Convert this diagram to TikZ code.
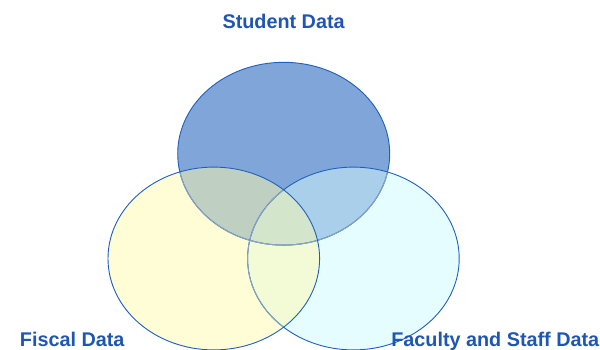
\documentclass[tikz,border=0pt]{standalone}
\usepackage{fontspec}
\setmainfont{Liberation Sans}
\definecolor{bfillc}{HTML}{7FA5D9}
\definecolor{bcfillc}{HTML}{A9CFEA}
\definecolor{cfillc}{HTML}{E6FDFF}
\definecolor{yfillc}{HTML}{FFFDD6}
\definecolor{ybfillc}{HTML}{BFD0C2}
\definecolor{ycfillc}{HTML}{F2FAD6}
\definecolor{tripfillc}{HTML}{D3E5CB}
\definecolor{lineblue}{HTML}{1F5FBF}
\definecolor{fadeblue}{HTML}{8AA5BF}
\definecolor{txtblue}{HTML}{1F56B4}
\begin{document}
\begin{tikzpicture}[x=1pt,y=-1pt,
  lbl/.style={font=\bfseries\fontsize{19.8}{24}\selectfont, text=txtblue, inner sep=0pt, anchor=base},
  edgeline/.style={draw=lineblue, line width=0.9pt},
  fadedline/.style={draw=fadeblue, line width=0.9pt}]
\useasboundingbox (0,0) rectangle (600,349);
\def\ellB{(283.7,153.7) ellipse [x radius=106, y radius=91.4]}
\def\ellY{(213.8,258.5) ellipse [x radius=105.8, y radius=91.4]}
\def\ellC{(353.4,258.5) ellipse [x radius=105.8, y radius=91.4]}
% region fills
\fill[bfillc] \ellB;
\fill[cfillc] \ellC;
\begin{scope}\clip \ellC; \fill[bcfillc] \ellB; \end{scope}
\fill[yfillc] \ellY;
\begin{scope}
  \clip \ellY;
  \fill[ycfillc] \ellC;
  \fill[ybfillc] \ellB;
  \clip \ellC;
  \fill[tripfillc] \ellB;
\end{scope}
% outlines
\draw[edgeline] \ellB;
\begin{scope}\clip \ellC; \draw[fadedline] \ellB; \end{scope}
\begin{scope}\clip \ellY; \draw[fadedline] \ellB; \end{scope}
\draw[edgeline] \ellC;
\begin{scope}\clip \ellY; \draw[fadedline] \ellC; \end{scope}
\draw[edgeline] \ellY;
% labels
\node[lbl] (student) at (283.6,28.3) {Student Data};
\node[lbl] (fiscal) at (72.2,346) {Fiscal Data};
\node[lbl] (faculty) at (495.3,346) {Faculty and Staff Data};
\end{tikzpicture}
\end{document}
